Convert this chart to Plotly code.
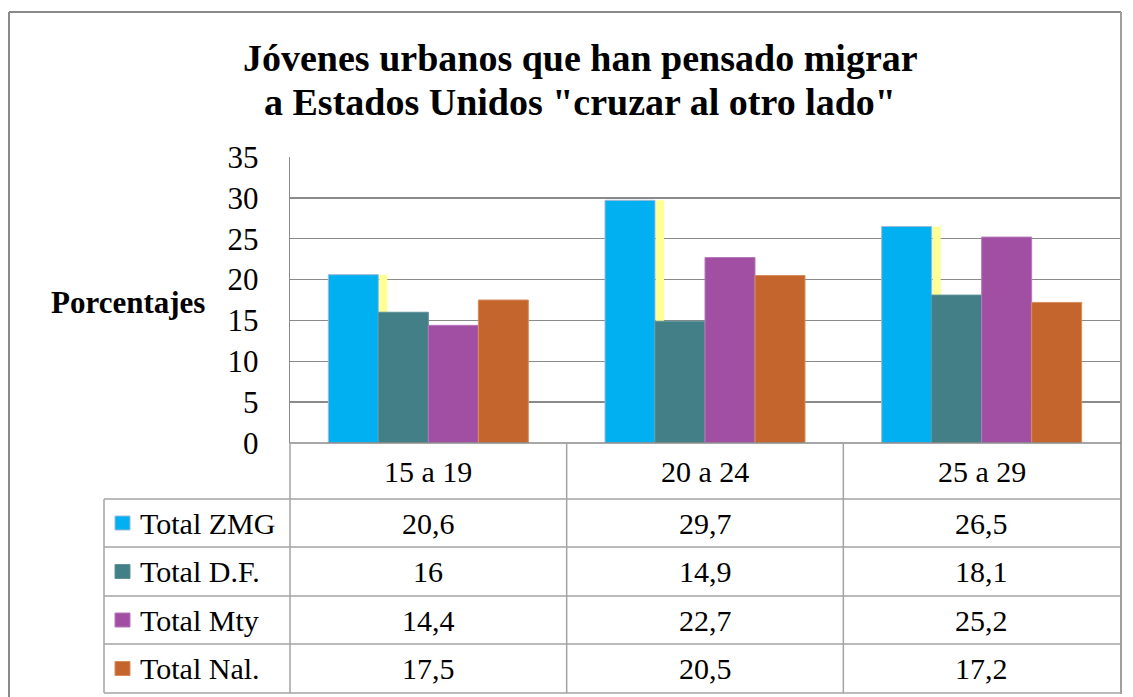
import plotly.graph_objects as go

# ---------------- data ----------------
categories = ["15 a 19", "20 a 24", "25 a 29"]
series_names = ["Total ZMG", "Total D.F.", "Total Mty", "Total Nal."]
total_zmg = [20.6, 29.7, 26.5]
total_df = [16, 14.9, 18.1]
total_mty = [14.4, 22.7, 25.2]
total_nal = [17.5, 20.5, 17.2]
y_ticks = [0, 5, 10, 15, 20, 25, 30, 35]
title_lines = ["Jóvenes urbanos que han pensado migrar",
               "a Estados Unidos \"cruzar al otro lado\""]
y_title = "Porcentajes"

series_values = [total_zmg, total_df, total_mty, total_nal]
colors = ["#00B0F0", "#427F86", "#A04FA2", "#C3652D"]
edge_colors = ["#9FB9D6", "#5E9298", "#B978BA", "#D98D5E"]

# ---------------- geometry helpers ----------------
W, H = 1133, 697
def fx(p):
    return p / W
def fy(p):
    return 1 - p / H

PL, PR, PT, PB = 290, 1120, 157, 443
cat_w = (PR - PL) / 3.0
bw = 50 / cat_w
FONT = "Liberation Serif"
GRID = "#8A8A8A"
TBL = "#A3A3A3"

fig = go.Figure()
xs = list(range(len(categories)))

# pale yellow stripe artefact behind D.F. bars (at ZMG height)
fig.add_trace(go.Bar(x=xs, y=total_zmg, offset=-bw + 1 / cat_w, width=8 / cat_w,
                     marker=dict(color="#FFFF94", line=dict(width=0)),
                     showlegend=False, hoverinfo="skip"))
for i, (name, vals) in enumerate(zip(series_names, series_values)):
    fig.add_trace(go.Bar(x=xs, y=vals, name=name, offset=-2 * bw + i * bw, width=bw,
                         marker=dict(color=colors[i], line=dict(color=edge_colors[i], width=1)),
                         showlegend=False))

fig.update_layout(
    width=W, height=H, autosize=False,
    margin=dict(l=0, r=0, t=0, b=0, pad=0, autoexpand=False),
    paper_bgcolor="white", plot_bgcolor="white",
    barmode="overlay", showlegend=False,
    xaxis=dict(domain=[fx(PL), fx(PR)], range=[-0.5, 2.5], showticklabels=False,
               showgrid=False, zeroline=False, showline=False, fixedrange=True,
               automargin=False),
    yaxis=dict(domain=[fy(PB), fy(PT)], range=[0, 35], tickvals=y_ticks,
               showgrid=True, gridcolor=GRID, gridwidth=1.3, zeroline=False,
               showline=True, linecolor=GRID, linewidth=1.3, ticks="",
               ticklabelstandoff=24, automargin=False,
               tickfont=dict(family=FONT, size=31, color="black")),
    font=dict(family=FONT, color="black"),
)

shapes = []
def hline(y, x0, x1, color=TBL, w=1.5):
    shapes.append(dict(type="line", xref="paper", yref="paper", x0=fx(x0), x1=fx(x1),
                       y0=fy(y), y1=fy(y), line=dict(color=color, width=w)))
def vline(x, y0, y1, color=TBL, w=1.5):
    shapes.append(dict(type="line", xref="paper", yref="paper", x0=fx(x), x1=fx(x),
                       y0=fy(y0), y1=fy(y1), line=dict(color=color, width=w)))

# outer chart border
hline(12, 9, 1121, color="#8A8A8A", w=2)
vline(9, 12, 697, color="#8A8A8A", w=2)
vline(1121, 12, 694, color="#A0A0A0", w=2)

# data table grid
row_edges = [PB, 499, 547, 596, 644, 693]
hline(PB, PL, 1121, color=GRID, w=1.5)
for y in row_edges[1:]:
    hline(y, 104, 1121)
vline(104, 499, 693)
vline(PL, PB, 693)
for k in range(1, 3):
    vline(PL + k * cat_w, PB, 693)

annotations = []
hdr_c = (row_edges[0] + row_edges[1]) / 2
for i, c in enumerate(categories):
    annotations.append(dict(x=i, xref="x", y=fy(hdr_c), yref="paper", text=c,
                            showarrow=False, xanchor="center", yanchor="middle",
                            font=dict(family=FONT, size=30, color="black")))

def fmt(v):
    return str(v).replace(".", ",")

for r, (name, vals) in enumerate(zip(series_names, series_values)):
    yc = (row_edges[r + 1] + row_edges[r + 2]) / 2
    shapes.append(dict(type="rect", xref="paper", yref="paper",
                       x0=fx(115), x1=fx(130), y0=fy(yc + 7), y1=fy(yc - 7),
                       fillcolor=colors[r], line=dict(color=edge_colors[r], width=1)))
    annotations.append(dict(x=fx(138), xref="paper", y=fy(yc), yref="paper", text=name,
                            showarrow=False, xanchor="left", yanchor="middle",
                            font=dict(family=FONT, size=30, color="black")))
    for i, v in enumerate(vals):
        annotations.append(dict(x=i, xref="x", y=fy(yc), yref="paper", text=fmt(v),
                                showarrow=False, xanchor="center", yanchor="middle",
                                font=dict(family=FONT, size=30, color="black")))

for k, line in enumerate(title_lines):
    annotations.append(dict(x=fx(580), xref="paper", y=fy(58 + 44 * k), yref="paper",
                            text="<b>" + line + "</b>", showarrow=False,
                            xanchor="center", yanchor="middle",
                            font=dict(family=FONT, size=38, color="black")))
annotations.append(dict(x=fx(128), xref="paper", y=fy(302), yref="paper",
                        text="<b>" + y_title + "</b>", showarrow=False,
                        xanchor="center", yanchor="middle",
                        font=dict(family=FONT, size=31, color="black")))

fig.update_layout(shapes=shapes, annotations=annotations)
fig.write_html("out.html",
               config={"displayModeBar": False, "staticPlot": True},
               post_script="document.body.style.margin='0';document.body.style.overflow='hidden';")
